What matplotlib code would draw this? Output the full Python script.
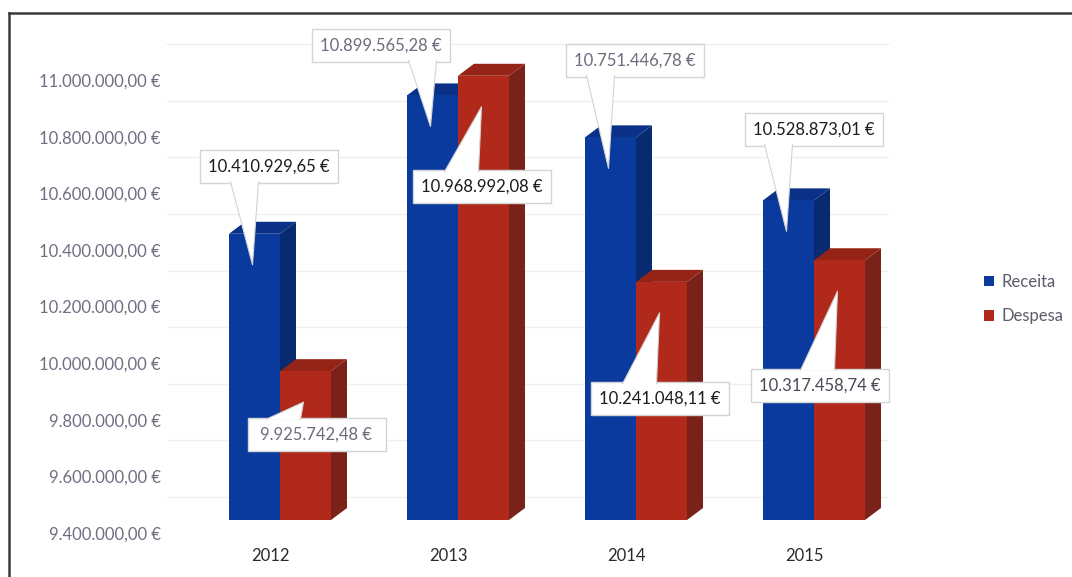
import matplotlib.pyplot as plt
import numpy as np
from matplotlib.lines import Line2D
from matplotlib.patches import Patch, Polygon, Rectangle

plt.rcParams["font.family"] = ["Lato", "DejaVu Sans"]

years = ["2012", "2013", "2014", "2015"]
receita = [10410929.65, 10899565.28, 10751446.78, 10528873.01]
despesa = [9925742.48, 10968992.08, 10241048.11, 10317458.74]
series_names = ["Receita", "Despesa"]

# callout box offsets from the top of each bar, in pixels (right, up)
receita_label_offsets = [(14, 67), (-52, 50), (24, 77), (25, 71)]
despesa_label_offsets = [(11, -63), (-2, -111), (-2, -117), (-20, -125)]
receita_label_colors = ["#1c1c1c", "#6c6c7c", "#6c6c7c", "#1c1c1c"]
despesa_label_colors = ["#6c6c7c", "#1c1c1c", "#1c1c1c", "#4a4a55"]

BLUE = {"front": "#0b3a9f", "side": "#072a70", "top": "#0a3187"}
RED = {"front": "#b0291a", "side": "#7a2219", "top": "#952416"}

W, H = 1072, 577
AX_L, AX_R, AX_T, AX_B = 180, 935, 80, 533
CAT_PX = 178
X0 = -(270 - AX_L) / CAT_PX
X1 = X0 + (AX_R - AX_L) / CAT_PX
Y0, Y1 = 9.4e6, 11.0e6

px_x = (X1 - X0) / (AX_R - AX_L)
px_y = (Y1 - Y0) / (AX_B - AX_T)

FRONT = (10, 13)
DEPTH = (16, 12)
WALL = (0, 36)
BAR_W = 51 * px_x
BOX_W, BOX_H = 138, 33
FS = 12


def eur(v):
    s = f"{v:,.2f}"
    return s.replace(",", "X").replace(".", ",").replace("X", ".") + " €"


def draw_bar(ax, left, value, colors):
    x0 = left + FRONT[0] * px_x
    x1 = x0 + BAR_W
    b = Y0 + FRONT[1] * px_y
    t = value + FRONT[1] * px_y
    ddx, ddy = DEPTH[0] * px_x, DEPTH[1] * px_y
    side = [(x1, b), (x1 + ddx, b + ddy), (x1 + ddx, t + ddy), (x1, t)]
    top = [(x0, t), (x1, t), (x1 + ddx, t + ddy), (x0 + ddx, t + ddy)]
    ax.add_patch(Polygon(side, closed=True, fc=colors["side"], lw=0,
                         clip_on=False, zorder=3))
    ax.add_patch(Polygon(top, closed=True, fc=colors["top"], lw=0,
                         clip_on=False, zorder=3))
    ax.add_patch(Rectangle((x0, b), BAR_W, t - b, fc=colors["front"], lw=0,
                           clip_on=False, zorder=3))
    return x0 + BAR_W / 2, t


def draw_callout(ax, anchor, value, offset, color, above):
    cx, cy = anchor
    bx = cx + offset[0] * px_x
    by = cy + offset[1] * px_y
    hw, hh = BOX_W / 2 * px_x, BOX_H / 2 * px_y
    ax.add_patch(Rectangle((bx - hw, by - hh), 2 * hw, 2 * hh, fc="white",
                           ec="#d4d4d4", lw=1, clip_on=False, zorder=6))
    tip_x = cx - 2 * px_x
    tip_y = cy - 31 * px_y
    if above:
        base_c = tip_x - 8 * px_x
        half = 14 * px_x
        edge_y = by - hh + 1.5 * px_y
    else:
        base_c = tip_x - 20 * px_x
        half = 17 * px_x
        edge_y = by + hh - 1.5 * px_y
    base_c = min(max(base_c, bx - hw + half + 4 * px_x), bx + hw - half - 4 * px_x)
    left_pt = (base_c - half, edge_y)
    right_pt = (base_c + half, edge_y)
    ax.add_patch(Polygon([left_pt, (tip_x, tip_y), right_pt], closed=True,
                         fc="white", lw=0, clip_on=False, zorder=6.5))
    ax.plot([left_pt[0], tip_x, right_pt[0]], [left_pt[1], tip_y, right_pt[1]],
            color="#d4d4d4", lw=0.8, clip_on=False, zorder=6.6)
    ax.text(bx, by, eur(value), ha="center", va="center", fontsize=FS,
            color=color, zorder=7)


fig = plt.figure(figsize=(W / 100, H / 100), dpi=100)
ax = fig.add_axes([AX_L / W, 1 - AX_B / H, (AX_R - AX_L) / W, (AX_B - AX_T) / H])
ax.set_xlim(X0, X1)
ax.set_ylim(Y0, Y1)
for s in ax.spines.values():
    s.set_visible(False)

y_ticks = np.arange(Y0, Y1 + 1, 2e5)
for yv in y_ticks:
    ax.plot([-0.58, 3.47], [yv + WALL[1] * px_y] * 2, color="#efefef", lw=1,
            clip_on=False, zorder=1)

ax.set_yticks(y_ticks, [eur(v) for v in y_ticks])
ax.set_xticks(range(len(years)), years)
ax.tick_params(axis="y", length=0, pad=14, labelsize=FS, labelcolor="#6e6e82")
ax.tick_params(axis="x", length=0, pad=11, labelsize=FS, labelcolor="#2a2a2a")

for i in range(len(years)):
    a_r = draw_bar(ax, i - BAR_W, receita[i], BLUE)
    a_d = draw_bar(ax, i, despesa[i], RED)
    draw_callout(ax, a_r, receita[i], receita_label_offsets[i],
                 receita_label_colors[i], above=True)
    draw_callout(ax, a_d, despesa[i], despesa_label_offsets[i],
                 despesa_label_colors[i], above=False)

handles = [Patch(fc=BLUE["front"]), Patch(fc=RED["front"])]
fig.legend(handles, series_names, loc="center left",
           bbox_to_anchor=(984 / W, 1 - 299 / H), frameon=False,
           borderpad=0, borderaxespad=0,
           handlelength=0.6, handleheight=0.6, handletextpad=0.45,
           labelspacing=1.1, fontsize=12, labelcolor="#5c5c6c")

# outer chart frame (top and left edges)
fig.add_artist(Line2D([9 / W, 1], [1 - 13 / H] * 2, color="#3a3a3a", lw=1.8))
fig.add_artist(Line2D([9 / W] * 2, [0, 1 - 13 / H], color="#3a3a3a", lw=1.8))

fig.savefig("out.png", dpi=100)
